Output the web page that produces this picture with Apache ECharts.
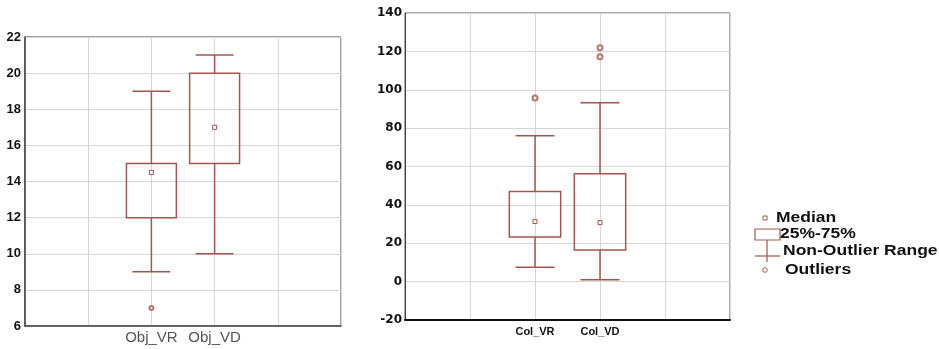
<!DOCTYPE html>
<html>
<head>
<meta charset="utf-8">
<script src="https://cdn.jsdelivr.net/npm/echarts@6/dist/echarts.min.js"></script>
<style>
    html, body { margin: 0; padding: 0; background: #fff; }
    #chart { width: 939px; height: 349px; }
</style>
</head>
<body>
<div id="chart"></div>
<script>
// left panel (Obj)
var objCategories = ['', '', 'Obj_VR', 'Obj_VD', '', ''];
var objNames = ['Obj_VR', 'Obj_VD'];
var objLow = [9, 10];
var objQ1 = [12, 15];
var objMedian = [14.5, 17];
var objQ3 = [15, 20];
var objHigh = [19, 21];
var objOutliers = [['Obj_VR', 7]];
var objTicks = [6, 22, 2];

// right panel (Col)
var colCategories = ['', '', 'Col_VR', 'Col_VD', '', ''];
var colNames = ['Col_VR', 'Col_VD'];
var colLow = [7.5, 1];
var colQ1 = [23.3, 16.5];
var colMedian = [31.3, 30.8];
var colQ3 = [47, 56.2];
var colHigh = [76, 93.2];
var colOutliers = [['Col_VR', 95.7], ['Col_VD', 117.2], ['Col_VD', 121.9]];
var colTicks = [-20, 140, 20];

var BOX_COLOR = '#a4564c';

function boxRows(cats, names, low, q1, med, q3, high) {
    var rows = [];
    for (var i = 0; i < names.length; i++) {
        rows.push([cats.indexOf(names[i]), low[i], q1[i], med[i], q3[i], high[i]]);
    }
    return rows;
}

function outlierRows(cats, list) {
    return list.map(function (o) { return [cats.indexOf(o[0]), o[1]]; });
}

function renderBox(params, api) {
    var x = api.value(0);
    var lo = api.coord([x, api.value(1)]);
    var q1 = api.coord([x, api.value(2)]);
    var md = api.coord([x, api.value(3)]);
    var q3 = api.coord([x, api.value(4)]);
    var hi = api.coord([x, api.value(5)]);
    var band = api.size([1, 0])[0];
    var bw = band * 0.79, cw = band * 0.6;
    var cx = lo[0];
    var st = {stroke: BOX_COLOR, lineWidth: 1.5, fill: null};
    return {
        type: 'group',
        children: [
            {type: 'line', shape: {x1: cx, y1: hi[1], x2: cx, y2: q3[1]}, style: st},
            {type: 'line', shape: {x1: cx, y1: q1[1], x2: cx, y2: lo[1]}, style: st},
            {type: 'line', shape: {x1: cx - cw / 2, y1: hi[1], x2: cx + cw / 2, y2: hi[1]}, style: st},
            {type: 'line', shape: {x1: cx - cw / 2, y1: lo[1], x2: cx + cw / 2, y2: lo[1]}, style: st},
            {type: 'rect', shape: {x: cx - bw / 2, y: q3[1], width: bw, height: q1[1] - q3[1]}, style: st},
            {type: 'rect', shape: {x: cx - 2, y: md[1] - 2, width: 4, height: 4},
                style: {stroke: BOX_COLOR, lineWidth: 1, fill: '#fff'}}
        ]
    };
}

function xAxisFor(idx, cats, label) {
    return {
        type: 'category',
        gridIndex: idx,
        data: cats,
        boundaryGap: false,
        axisTick: {show: false},
        axisLine: {show: true, onZero: false, lineStyle: {color: idx ? '#111' : '#444', width: idx ? 2 : 1.5}},
        axisLabel: Object.assign({interval: 0}, label),
        splitLine: {show: true, interval: 0, lineStyle: {color: '#d6d6d6'}}
    };
}

function yAxisFor(idx, ticks, label) {
    return {
        type: 'value',
        gridIndex: idx,
        min: ticks[0],
        max: ticks[1],
        interval: ticks[2],
        axisTick: {show: false},
        axisLine: {show: true, onZero: false, lineStyle: {color: '#444', width: idx ? 1 : 1.5}},
        axisLabel: label,
        splitLine: {show: true, lineStyle: {color: '#d6d6d6'}}
    };
}

var legendText = {fill: '#111', fontFamily: 'Liberation Sans', fontWeight: 'bold', fontSize: 14};

function legendLabel(x, y, txt) {
    return {type: 'text', x: x, y: y, scaleX: 1.25, style: Object.assign({text: txt, verticalAlign: 'middle'}, legendText)};
}

var chart = echarts.init(document.getElementById('chart'));

var option = {
    animation: false,
    grid: [
        {left: 25, top: 37, width: 316, height: 289, show: true, borderColor: '#444', borderWidth: 1},
        {left: 405, top: 13, width: 325, height: 307, show: true, borderColor: '#555', borderWidth: 1}
    ],
    xAxis: [
        xAxisFor(0, objCategories, {color: '#555', fontFamily: 'Liberation Sans', fontSize: 15, margin: 4}),
        xAxisFor(1, colCategories, {color: '#111', fontFamily: 'Liberation Sans', fontWeight: 'bold', fontSize: 11, margin: 6})
    ],
    yAxis: [
        yAxisFor(0, objTicks, {color: '#111', fontFamily: 'Liberation Sans', fontWeight: 'bold', fontSize: 13, margin: 4}),
        yAxisFor(1, colTicks, {color: '#111', fontFamily: 'DejaVu Sans', fontWeight: 'bold', fontSize: 12, margin: 3})
    ],
    series: [
        {
            type: 'custom', xAxisIndex: 0, yAxisIndex: 0,
            renderItem: renderBox,
            data: boxRows(objCategories, objNames, objLow, objQ1, objMedian, objQ3, objHigh)
        },
        {
            type: 'scatter', xAxisIndex: 0, yAxisIndex: 0,
            symbol: 'emptyCircle', symbolSize: 4,
            itemStyle: {color: BOX_COLOR, borderWidth: 1},
            data: outlierRows(objCategories, objOutliers)
        },
        {
            type: 'custom', xAxisIndex: 1, yAxisIndex: 1,
            renderItem: renderBox,
            data: boxRows(colCategories, colNames, colLow, colQ1, colMedian, colQ3, colHigh)
        },
        {
            type: 'scatter', xAxisIndex: 1, yAxisIndex: 1,
            symbol: 'emptyCircle', symbolSize: 5,
            itemStyle: {color: BOX_COLOR, borderWidth: 1},
            data: outlierRows(colCategories, colOutliers)
        }
    ],
    graphic: [
        {type: 'rect', shape: {x: 763, y: 216, width: 4, height: 4}, style: {stroke: BOX_COLOR, lineWidth: 1, fill: '#fff'}},
        legendLabel(776, 218, 'Median'),
        {type: 'rect', shape: {x: 755, y: 229, width: 25, height: 11}, style: {stroke: BOX_COLOR, lineWidth: 1.2, fill: null}},
        legendLabel(780, 234, '25%-75%'),
        {type: 'line', shape: {x1: 767, y1: 240, x2: 767, y2: 262}, style: {stroke: BOX_COLOR, lineWidth: 1.2}},
        {type: 'line', shape: {x1: 755, y1: 256, x2: 780, y2: 256}, style: {stroke: BOX_COLOR, lineWidth: 1.2}},
        legendLabel(783, 251, 'Non-Outlier Range'),
        {type: 'circle', shape: {cx: 765, cy: 270, r: 2.3}, style: {stroke: BOX_COLOR, lineWidth: 1, fill: '#fff'}},
        legendLabel(785, 270, 'Outliers')
    ]
};

chart.setOption(option);
</script>
</body>
</html>
